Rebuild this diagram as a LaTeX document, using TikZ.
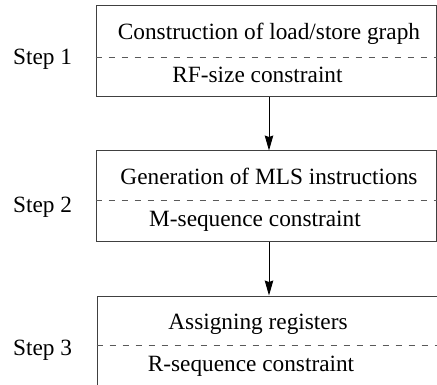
\documentclass[tikz,border=0pt]{standalone}
\usepackage{fontspec}
\setmainfont{Liberation Serif}
\usetikzlibrary{arrows.meta}
\begin{document}
\begin{tikzpicture}[x=1pt,y=-1pt,
  stagebox/.style={draw=black!75, line width=1pt, rectangle, inner sep=0pt},
  divider/.style={draw=black!65, line width=0.9pt, dash pattern=on 6.5pt off 6.5pt},
  label/.style={font=\fontsize{23.3}{27}\selectfont, inner sep=0pt, anchor=base},
  steplabel/.style={label, anchor=base west},
  flow/.style={draw=black, line width=0.9pt, -{Stealth[length=15pt,width=8.5pt,inset=1.5pt]}}]
  \useasboundingbox (0,0) rectangle (437,385);
  \clip (0,0) rectangle (437,385);

  % three stage boxes (the last one runs past the frame)
  \node[stagebox, minimum width=340pt, minimum height=91pt] (box1) at (266,51.5) {};
  \node[stagebox, minimum width=340pt, minimum height=91pt] (box2) at (266,196.5) {};
  \node[stagebox, minimum width=350pt, minimum height=110pt] (box3) at (272,351) {};

  % dashed dividers between task and constraint (yshift is measured upwards)
  \draw[divider] ([yshift=-5.5pt]box1.west) -- ([yshift=-5.5pt]box1.east);
  \draw[divider] ([yshift=-3.5pt]box2.west) -- ([yshift=-3.5pt]box2.east);
  \draw[divider] ([yshift=6pt]box3.west) -- ([yshift=6pt]box3.east);

  % box texts
  \node[label] (t1) at (269,40) {Construction of load/store graph};
  \node[label] (c1) at (257.5,83) {RF-size constraint};
  \node[label] (t2) at (269,185) {Generation of MLS instructions};
  \node[label] (c2) at (255,227) {M-sequence constraint};
  \node[label] (t3) at (258,329) {Assigning registers};
  \node[label] (c3) at (251,371) {R-sequence constraint};

  % step labels
  \node[steplabel] (s1) at (13,65) {Step 1};
  \node[steplabel] (s2) at (13,212.5) {Step 2};
  \node[steplabel] (s3) at (13,355) {Step 3};

  % flow between stages
  \draw[flow] ([xshift=3pt]box1.south) -- ([xshift=3pt]box2.north);
  \draw[flow] ([xshift=3pt]box2.south) -- ([xshift=-3pt]box3.north);
\end{tikzpicture}
\end{document}
